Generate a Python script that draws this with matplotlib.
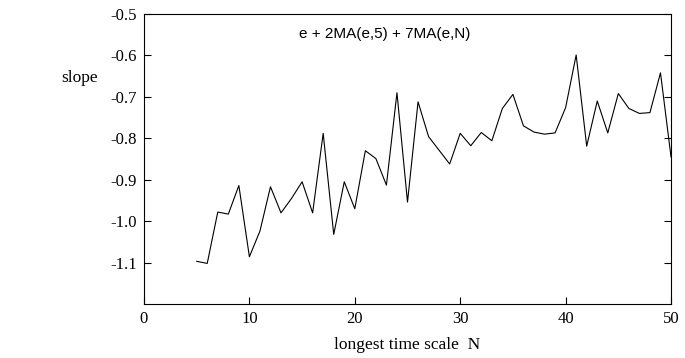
import matplotlib
matplotlib.use("Agg")
import matplotlib.pyplot as plt

N = list(range(5, 51))
slope = [-1.097, -1.102, -0.978, -0.983, -0.914, -1.086, -1.024, -0.917, -0.980, -0.945,
         -0.905, -0.980, -0.788, -1.032, -0.905, -0.970, -0.830, -0.849, -0.913, -0.690,
         -0.954, -0.712, -0.796, -0.829, -0.862, -0.788, -0.818, -0.786, -0.806, -0.728,
         -0.694, -0.770, -0.785, -0.790, -0.787, -0.726, -0.599, -0.819, -0.710, -0.787,
         -0.692, -0.728, -0.740, -0.738, -0.642, -0.845]
xticks = [0, 10, 20, 30, 40, 50]
yticks = [-0.5, -0.6, -0.7, -0.8, -0.9, -1.0, -1.1]

serif = "Liberation Serif"
sans = "Liberation Sans"

fig = plt.figure(figsize=(6.85, 3.58), dpi=100)
ax = fig.add_axes([0.2102, 0.1508, 0.7694, 0.8101])
ax.plot(N, slope, color="black", linewidth=0.8)

ax.set_xlim(0, 50)
ax.set_ylim(-1.2, -0.5)
ax.set_xticks(xticks)
ax.set_yticks(yticks)
ax.set_yticklabels(["%.1f" % v for v in yticks])
ax.tick_params(direction="in", length=5, width=0.8, labelsize=12, pad=5,
               left=True, right=True, top=False, bottom=True)
for lab in ax.get_xticklabels() + ax.get_yticklabels():
    lab.set_fontfamily(serif)
for sp in ax.spines.values():
    sp.set_linewidth(0.8)

ax.set_xlabel("longest time scale  N", fontfamily=serif, fontsize=12.5, labelpad=7)
fig.text(80 / 685, 1 - 78 / 358, "slope", fontfamily=serif, fontsize=12.5,
         ha="center", va="center")
ax.text(0.457, 0.93, "e + 2MA(e,5) + 7MA(e,N)", transform=ax.transAxes,
        fontfamily=sans, fontsize=11, ha="center", va="center")

fig.savefig("out.png", dpi=100)
